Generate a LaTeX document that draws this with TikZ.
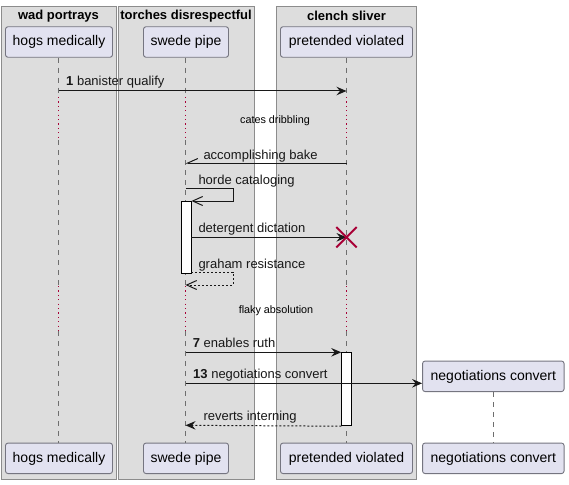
\documentclass[tikz,border=0pt]{standalone}
\usepackage{fontspec}
\setmainfont{Liberation Sans}
\usetikzlibrary{arrows.meta}
\definecolor{grpfill}{HTML}{DDDDDD}
\definecolor{grpline}{HTML}{8C8C8C}
\definecolor{partfill}{HTML}{E2E2F0}
\definecolor{partline}{HTML}{757580}
\definecolor{lifecol}{HTML}{6E6E6E}
\definecolor{delaycol}{HTML}{A80036}
\definecolor{msgcol}{HTML}{181818}
\begin{document}
\begin{tikzpicture}[x=1pt,y=-1pt,
  grp/.style={draw=grpline,fill=grpfill,line width=0.9pt,inner sep=0,outer sep=0,anchor=north west},
  grptitle/.style={font=\fontsize{13}{15}\selectfont\bfseries,inner sep=0},
  part/.style={draw=partline,fill=partfill,rounded corners=2.5pt,line width=0.9pt,minimum height=30.5pt,inner sep=0,
    font=\fontsize{14}{16}\selectfont,text height=10.5pt,text depth=3pt},
  life/.style={draw=lifecol,line width=0.8pt,dash pattern=on 5pt off 5pt},
  delay/.style={draw=delaycol,line width=1.1pt,dash pattern=on 1.2pt off 3.2pt},
  act/.style={draw=black,fill=white,line width=0.9pt,minimum width=10pt,inner sep=0,anchor=north},
  msg/.style={draw=msgcol,line width=1pt},
  filled/.style={-{Stealth[length=10pt,width=8.5pt,inset=3.5pt]}},
  openhead/.style={-{Straight Barb[length=10pt,width=9pt]}},
  lbl/.style={font=\fontsize{13}{15}\selectfont,inner sep=0,anchor=base west,text=msgcol},
  note/.style={font=\fontsize{10.8}{12}\selectfont,inner sep=0,text=black},
]
\useasboundingbox (0,0) rectangle (569,484);
% groups
\node[grp,minimum width=115.5pt,minimum height=473pt] (g1) at (1,6) {};
\node[grp,minimum width=136pt,minimum height=473pt] (g2) at (118,6) {};
\node[grp,minimum width=140pt,minimum height=473pt] (g3) at (276.5,6) {};
\node[grptitle] (t1) at (58.5,16) {wad portrays};
\node[grptitle] (t2) at (186,16) {torches disrespectful};
\node[grptitle] (t3) at (346.5,16) {clench sliver};
% participants
\node[part,minimum width=107pt] (a1) at (59,42) {hogs medically};
\node[part,minimum width=85pt] (b1) at (186,42) {swede pipe};
\node[part,minimum width=132pt] (c1) at (346.5,42) {pretended violated};
\node[part,minimum width=141.5pt] (d1) at (493.3,376.3) {negotiations convert};
\node[part,minimum width=107pt] (a2) at (59,458.3) {hogs medically};
\node[part,minimum width=85pt] (b2) at (186,458.3) {swede pipe};
\node[part,minimum width=132pt] (c2) at (346.5,458.3) {pretended violated};
\node[part,minimum width=141.5pt] (d2) at (493.3,458.3) {negotiations convert};
% delay levels
\coordinate (y1) at (0,97);
\coordinate (y2) at (0,140);
\coordinate (y3) at (0,286);
\coordinate (y4) at (0,331);
% lifelines
\foreach \p/\q/\xx in {a1/a2/58.5,b1/b2/185.5,c1/c2/346.5}{
  \coordinate (\p l) at (\xx,0);
  \draw[life] (\p l |- \p.south) -- (\p l |- y1);
  \draw[delay] (\p l |- y1) -- (\p l |- y2);
  \draw[life] (\p l |- y2) -- (\p l |- y3);
  \draw[delay] (\p l |- y3) -- (\p l |- y4);
  \draw[life] (\p l |- y4) -- (\p l |- \q.north);
}
\draw[life] (d1.south) -- (d2.north);
% delay texts
\node[note] (n1) at (275,121) {cates dribbling};
\node[note] (n2) at (276,310.5) {flaky absolution};
% activations
\node[act,minimum height=72.3pt] (actB) at (186,201) {};
\node[act,minimum height=73pt] (actC) at (346.7,352.3) {};
% message 1
\coordinate (m1s) at (58.5,91);
\coordinate (m1e) at (346.5,91);
\draw[msg,filled] (m1s) -- (m1e);
\node[lbl] (l1) at (66,85.5) {\textbf{1} banister qualify};
% accomplishing bake
\coordinate (m2s) at (346.5,163);
\coordinate (m2e) at (185.5,163);
\draw[msg,-{Straight Barb[length=10pt,width=9pt,right]}] (m2s) -- (m2e);
\node[lbl] (l2) at (203.3,159.5) {accomplishing bake};
% horde cataloging
\coordinate (m3s) at (185.5,188.3);
\coordinate (m3r) at (233.3,188.3);
\draw[msg,openhead] (m3s) -- (m3r) |- (actB.north east);
\node[lbl] (l3) at (198.3,184.5) {horde cataloging};
% detergent dictation
\coordinate (m4e) at (346.5,237.3);
\draw[msg,filled] (actB.east |- m4e) -- (m4e);
\node[lbl] (l4) at (198.3,232.5) {detergent dictation};
\node[inner sep=0,minimum size=20pt] (x1) at (m4e) {};
\draw[draw=delaycol,line width=2pt] (x1.north west) -- (x1.south east) (x1.north east) -- (x1.south west);
% graham resistance
\coordinate (m5r) at (233.3,272.3);
\coordinate (m5e) at (185.5,285);
\draw[msg,openhead,dash pattern=on 2pt off 2pt] (actB.south east |- m5r) -- (m5r) |- (m5e);
\node[lbl] (l5) at (198.3,268.5) {graham resistance};
% enables ruth
\coordinate (m6s) at (185.5,352.3);
\draw[msg,filled] (m6s) -- (actC.north west);
\node[lbl] (l6) at (192.7,347.5) {\textbf{7} enables ruth};
% negotiations convert
\coordinate (m7s) at (185.5,383.3);
\draw[msg,filled] (m7s) -- (d1.west |- m7s);
\node[lbl] (l7) at (193,378.5) {\textbf{13} negotiations convert};
% reverts interning
\coordinate (m8e) at (185.5,425.3);
\draw[msg,filled,dash pattern=on 2pt off 2pt] (actC.south west) -- (m8e);
\node[lbl] (l8) at (203.3,420.5) {reverts interning};
\end{tikzpicture}
\end{document}
